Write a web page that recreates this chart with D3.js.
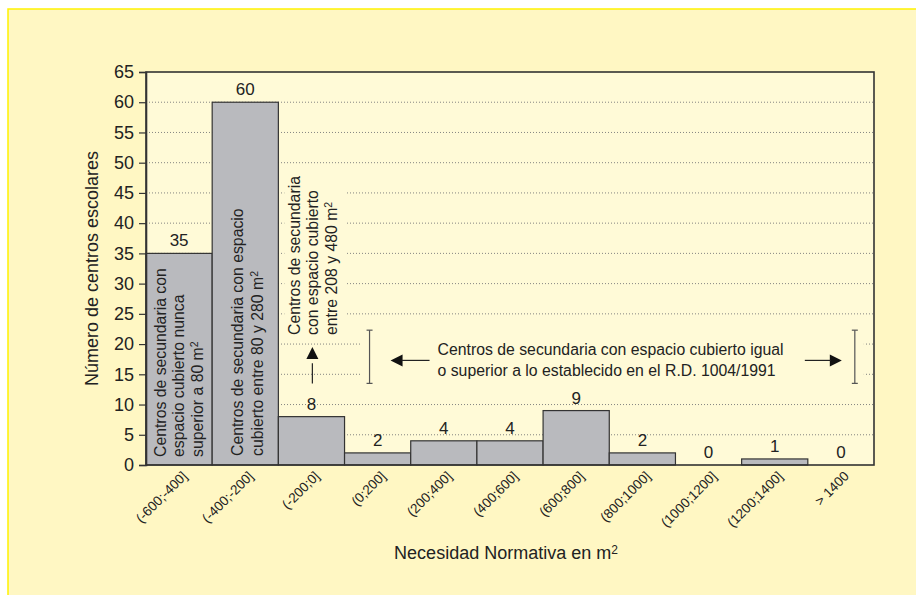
<!DOCTYPE html>
<html>
<head>
<meta charset="utf-8">
<script src="https://cdn.jsdelivr.net/npm/d3@7"></script>
<style>
  body { margin: 0; background: #fff; }
  svg { display: block; font-family: "Liberation Sans", Arial, Helvetica, sans-serif; }
</style>
</head>
<body>
<div class="chart"></div>
<script>
var categories = ["(-600;-400]", "(-400;-200]", "(-200;0]", "(0;200]", "(200;400]", "(400;600]",
                  "(600;800]", "(800;1000]", "(1000;1200]", "(1200;1400]", "> 1400"];
var counts = [35, 60, 8, 2, 4, 4, 9, 2, 0, 1, 0];
var yTicks = d3.range(0, 66, 5);

var width = 916;
var height = 595;
var margin = { top: 72, right: 42, bottom: 130, left: 146 };

var svg = d3.select(".chart")
  .append("svg")
    .attr("width", width)
    .attr("height", height);

// outer panel
svg.append("rect")
  .attr("x", 8).attr("y", 9)
  .attr("width", width).attr("height", height)
  .attr("fill", "#fff7c3")
  .attr("stroke", "#fff200")
  .attr("stroke-width", 1.5);

var x = d3.scaleBand()
  .domain(categories)
  .range([margin.left, width - margin.right]);

var y = d3.scaleLinear()
  .domain([0, 65])
  .range([height - margin.bottom, margin.top]);

// plot area
svg.append("rect")
  .attr("x", x.range()[0]).attr("y", y(65))
  .attr("width", x.range()[1] - x.range()[0])
  .attr("height", y(0) - y(65))
  .attr("fill", "#fffad7");

// dotted grid
svg.selectAll("line.grid")
  .data(yTicks.filter(function(d) { return d > 0 && d < 65; }))
  .enter()
  .append("line")
    .attr("class", "grid")
    .attr("x1", x.range()[0]).attr("x2", x.range()[1])
    .attr("y1", function(d) { return y(d); })
    .attr("y2", function(d) { return y(d); })
    .attr("stroke", "#777")
    .attr("stroke-width", 0.9)
    .attr("stroke-dasharray", "1,2");

var b1 = x("(-600;-400]"), b2 = x("(-400;-200]"), b3 = x("(-200;0]");
var lx = x("(0;200]") + 25;   // left bracket
var rx = x("> 1400") + 47;    // right bracket

// boxes that hide the grid behind the annotations
svg.append("rect")
  .attr("x", b3 + 6).attr("y", y(49))
  .attr("width", x.bandwidth() - 4).attr("height", y(21) - y(49))
  .attr("fill", "#fffad7");
svg.append("rect")
  .attr("x", lx - 8).attr("y", y(23))
  .attr("width", rx - lx + 17).attr("height", y(12) - y(23))
  .attr("fill", "#fffad7");

// bars
svg.selectAll("rect.bar")
  .data(counts)
  .enter()
  .append("rect")
    .attr("class", "bar")
    .attr("x", function(d, i) { return x(categories[i]); })
    .attr("y", function(d) { return y(d); })
    .attr("width", x.bandwidth())
    .attr("height", function(d) { return y(0) - y(d); })
    .attr("fill", "#b9babe")
    .attr("stroke", "#333")
    .attr("stroke-width", 1.2);

// value labels
svg.selectAll("text.value")
  .data(counts)
  .enter()
  .append("text")
    .attr("class", "value")
    .attr("x", function(d, i) { return x(categories[i]) + x.bandwidth() / 2; })
    .attr("y", function(d) { return y(d) - 7; })
    .attr("text-anchor", "middle")
    .attr("font-size", "17px")
    .attr("fill", "#222")
    .text(function(d) { return d; });

// plot frame
svg.append("rect")
  .attr("x", x.range()[0]).attr("y", y(65))
  .attr("width", x.range()[1] - x.range()[0])
  .attr("height", y(0) - y(65))
  .attr("fill", "none")
  .attr("stroke", "#333")
  .attr("stroke-width", 1.6);

// y axis
var yAxis = svg.append("g")
  .attr("transform", "translate(" + x.range()[0] + ",0)")
  .call(d3.axisLeft(y).tickValues(yTicks).tickSize(7).tickPadding(5));
yAxis.select(".domain").attr("stroke", "#333").attr("stroke-width", 1.6);
yAxis.selectAll(".tick line").attr("stroke", "#333").attr("stroke-width", 1.2);
yAxis.selectAll("text")
  .attr("font-size", "18px")
  .attr("font-family", "Liberation Sans, Arial, sans-serif")
  .attr("fill", "#222");

svg.append("text")
  .attr("transform", "translate(92," + ((y(0) + y(65)) / 2) + ") rotate(-90)")
  .attr("text-anchor", "middle")
  .attr("dy", "0.35em")
  .attr("font-size", "18px")
  .attr("fill", "#222")
  .text("Número de centros escolares");

// x tick labels
svg.selectAll("text.xlab")
  .data(categories)
  .enter()
  .append("text")
    .attr("class", "xlab")
    .attr("transform", function(d) {
      return "translate(" + (x(d) + x.bandwidth() / 2 + 9) + "," + (y(0) + 12) + ") rotate(-45)";
    })
    .attr("text-anchor", "end")
    .attr("font-size", "13.5px")
    .attr("fill", "#222")
    .text(function(d) { return d; });

// x axis title
var xt = svg.append("text")
  .attr("x", 506).attr("y", 559)
  .attr("text-anchor", "middle")
  .attr("font-size", "18px")
  .attr("fill", "#222");
xt.append("tspan").text("Necesidad Normativa en m");
xt.append("tspan").attr("dy", "-0.45em").attr("font-size", "12px").text("2");

// vertical annotations
function vText(cx, startY, lines) {
  lines.forEach(function(line, i) {
    var t = svg.append("text")
      .attr("transform", "translate(" + cx[i] + "," + startY + ") rotate(-90)")
      .attr("dy", "0.35em")
      .attr("font-size", "15.8px")
      .attr("fill", "#222");
    var parts = line.split("^");
    t.append("tspan").text(parts[0]);
    if (parts.length > 1) {
      t.append("tspan").attr("dy", "-0.45em").attr("font-size", "10.5px").text(parts[1]);
    }
  });
}

vText([b1 + 14, b1 + 32.5, b1 + 51], y(0) - 8,
  ["Centros de secundaria con", "espacio cubierto nunca", "superior a 80 m^2"]);
vText([b2 + 25, b2 + 45], y(0) - 9,
  ["Centros de secundaria con espacio", "cubierto entre 80 y 280 m^2"]);
vText([b3 + 16, b3 + 34, b3 + 53], y(21.5),
  ["Centros de secundaria", "con espacio cubierto", "entre 208 y 480 m^2"]);

// arrow up in column 3
var ax = b3 + 34;
svg.append("line")
  .attr("x1", ax).attr("x2", ax)
  .attr("y1", y(13.5)).attr("y2", y(18.5) + 10)
  .attr("stroke", "#222").attr("stroke-width", 1.2);
svg.append("path")
  .attr("d", "M" + ax + "," + y(19.5) + "L" + (ax - 6) + "," + (y(19.5) + 12) + "L" + (ax + 6) + "," + (y(19.5) + 12) + "Z")
  .attr("fill", "#111");

// horizontal annotation with brackets
var ay = y(17.3);
[lx, rx].forEach(function(bx) {
  var g = svg.append("g").attr("stroke", "#555").attr("stroke-width", 1.2);
  g.append("line").attr("x1", bx).attr("x2", bx).attr("y1", y(22.3)).attr("y2", y(13.5));
  g.append("line").attr("x1", bx - 3).attr("x2", bx + 3).attr("y1", y(22.3)).attr("y2", y(22.3));
  g.append("line").attr("x1", bx - 3).attr("x2", bx + 3).attr("y1", y(13.5)).attr("y2", y(13.5));
});

svg.append("path")
  .attr("d", "M" + (lx + 21) + "," + ay + "l12,-6v12Z")
  .attr("fill", "#111");
svg.append("line")
  .attr("x1", lx + 32).attr("x2", lx + 60)
  .attr("y1", ay).attr("y2", ay)
  .attr("stroke", "#222").attr("stroke-width", 1.2);

svg.append("path")
  .attr("d", "M" + (rx - 13) + "," + ay + "l-12,-6v12Z")
  .attr("fill", "#111");
svg.append("line")
  .attr("x1", rx - 50).attr("x2", rx - 24)
  .attr("y1", ay).attr("y2", ay)
  .attr("stroke", "#222").attr("stroke-width", 1.2);

var ann = svg.append("text")
  .attr("x", lx + 68).attr("y", y(18.2))
  .attr("font-size", "15.8px")
  .attr("fill", "#222");
ann.append("tspan").text("Centros de secundaria con espacio cubierto igual");
ann.append("tspan").attr("x", lx + 68).attr("dy", "1.3em")
  .text("o superior a lo establecido en el R.D. 1004/1991");
</script>
</body>
</html>
